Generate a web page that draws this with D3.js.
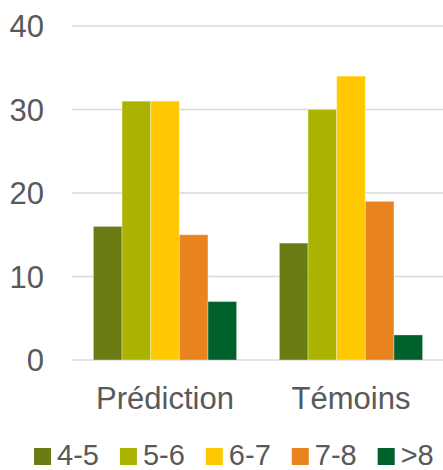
<!DOCTYPE html>
<html>
<head>
<meta charset="utf-8">
<script src="https://cdn.jsdelivr.net/npm/d3@7"></script>
<style>
  html, body { margin: 0; padding: 0; background: #fff; }
  svg { display: block; }
  text { font-family: "Liberation Sans", Arial, sans-serif; fill: #595959; }
</style>
</head>
<body>
<svg id="chart" width="443" height="470"></svg>
<script>
const categories = ["Prédiction", "Témoins"];
const seriesNames = ["4-5", "5-6", "6-7", "7-8", ">8"];
const seriesColors = ["#6A7B14", "#AAB400", "#FFC800", "#E8831F", "#00612D"];
const seriesValues = [
  [16, 14],
  [31, 30],
  [31, 34],
  [15, 19],
  [7, 3]
];
const yTicks = [0, 10, 20, 30, 40];

const svg = d3.select("#chart");
const plotLeft = 72, plotRight = 444, plotTop = 26, plotBottom = 360;

const x0 = d3.scaleBand().domain(categories).range([plotLeft, plotRight])
  .paddingInner(0.23).paddingOuter(0.115);
const x1 = d3.scaleBand().domain(seriesNames).range([0, x0.bandwidth()]).padding(0);
const y = d3.scaleLinear().domain([0, 40]).range([plotBottom, plotTop]);

// gridlines
svg.append("g").selectAll("line").data(yTicks).join("line")
  .attr("x1", plotLeft).attr("x2", plotRight)
  .attr("y1", d => y(d)).attr("y2", d => y(d))
  .attr("stroke", "#d9d9d9").attr("stroke-width", 1.6);

// y labels
svg.append("g").selectAll("text").data(yTicks).join("text")
  .attr("x", 44).attr("y", d => y(d) + 11)
  .attr("text-anchor", "end")
  .style("font-size", "31px")
  .text(d => d);

// bars
const data = [];
seriesNames.forEach((s, si) => categories.forEach((c, ci) => {
  data.push({ s, c, v: seriesValues[si][ci], color: seriesColors[si] });
}));
svg.append("g").selectAll("rect").data(data).join("rect")
  .attr("x", d => x0(d.c) + x1(d.s))
  .attr("y", d => y(d.v))
  .attr("width", x1.bandwidth())
  .attr("height", d => y(0) - y(d.v))
  .attr("fill", d => d.color)
  .attr("stroke", "rgba(255,255,255,0.35)")
  .attr("stroke-width", 1);

// x labels
svg.append("g").selectAll("text").data(categories).join("text")
  .attr("x", d => x0(d) + x0.bandwidth() / 2)
  .attr("y", 409)
  .attr("text-anchor", "middle")
  .style("font-size", "31px")
  .text(d => d);

// legend
const lg = svg.append("g");
let lx = 34;
seriesNames.forEach((s, i) => {
  lg.append("rect").attr("x", lx).attr("y", 448).attr("width", 17).attr("height", 17)
    .attr("fill", seriesColors[i]);
  const t = lg.append("text").attr("x", lx + 23).attr("y", 465)
    .style("font-size", "29px").text(s);
  lx += 23 + t.node().getComputedTextLength() + 21;
});
</script>
</body>
</html>
